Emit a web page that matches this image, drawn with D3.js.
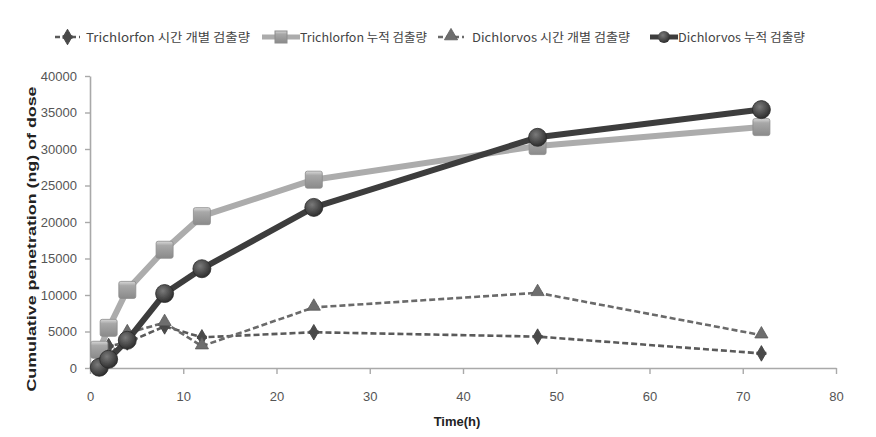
<!DOCTYPE html>
<html><head><meta charset="utf-8">
<script src="https://cdn.jsdelivr.net/npm/d3@7"></script>
<style>body{margin:0;background:#fff}svg{display:block}</style>
</head><body>
<svg id="c" width="876" height="437"></svg>
<script>
const times = [1, 2, 4, 8, 12, 24, 48, 72];
const trichlorfonHourly = [2000, 3000, 3500, 5700, 4200, 4900, 4300, 2000];
const trichlorfonCumulative = [2500, 5500, 10700, 16200, 20800, 25800, 30400, 33000];
const dichlorvosHourly = [300, 1500, 4800, 6200, 3000, 8300, 10300, 4500];
const dichlorvosCumulative = [100, 1200, 3800, 10200, 13600, 22000, 31600, 35400];
const seriesNames = ["Trichlorfon 시간 개별 검출량", "Trichlorfon 누적 검출량", "Dichlorvos 시간 개별 검출량", "Dichlorvos 누적 검출량"];
const xTicks = [0, 10, 20, 30, 40, 50, 60, 70, 80];
const yTicks = [0, 5000, 10000, 15000, 20000, 25000, 30000, 35000, 40000];
const xTitle = "Time(h)";
const yTitle = "Cumulative penetration (ng) of dose";

const svg = d3.select("#c");
const x = d3.scaleLinear().domain([0, 80]).range([90, 836]);
const y = d3.scaleLinear().domain([0, 40000]).range([368, 76]);

const defs = svg.append("defs");
const rg = defs.append("radialGradient").attr("id", "gCirc").attr("cx", "40%").attr("cy", "35%").attr("r", "65%");
rg.append("stop").attr("offset", "0%").attr("stop-color", "#7a7a7a");
rg.append("stop").attr("offset", "100%").attr("stop-color", "#2e2e2e");
const lg = defs.append("linearGradient").attr("id", "gSq").attr("x1", 0).attr("y1", 0).attr("x2", 0).attr("y2", 1);
lg.append("stop").attr("offset", "0%").attr("stop-color", "#d8d8d8");
lg.append("stop").attr("offset", "25%").attr("stop-color", "#a8a8a8");
lg.append("stop").attr("offset", "100%").attr("stop-color", "#8a8a8a");
const fl = defs.append("filter").attr("id", "blur").attr("x", "-20%").attr("y", "-20%").attr("width", "140%").attr("height", "140%");
fl.append("feGaussianBlur").attr("stdDeviation", 0.6);

const axisColor = "#a9a9a9";
const tickFont = "Liberation Sans Narrow, Liberation Sans, Arial, sans-serif";
// axes
const gx = svg.append("g").attr("transform", "translate(0,368)")
  .call(d3.axisBottom(x).tickValues(xTicks).tickFormat(d3.format("d")).tickSize(6).tickPadding(18).tickSizeOuter(0));
const gy = svg.append("g").attr("transform", "translate(90,0)")
  .call(d3.axisLeft(y).tickValues(yTicks).tickFormat(d3.format("d")).tickSize(5).tickPadding(8).tickSizeOuter(0));
[gx, gy].forEach(g => {
  g.select(".domain").attr("stroke", axisColor).attr("stroke-width", 1.6);
  g.selectAll(".tick line").attr("stroke", axisColor).attr("stroke-width", 1.4);
  g.selectAll(".tick text").attr("fill", "#555").attr("font-family", tickFont).attr("font-size", 13);
});

svg.append("text").attr("x", 457).attr("y", 426).attr("text-anchor", "middle")
  .attr("font-family", tickFont).attr("font-weight", "bold").attr("font-size", 13)
  .attr("fill", "#222").text(xTitle);
svg.append("text").attr("transform", "translate(36,239) rotate(-90)").attr("text-anchor", "middle")
  .attr("font-family", "Liberation Sans, Arial, sans-serif").attr("font-weight", "bold").attr("font-size", 13)
  .attr("fill", "#222").attr("textLength", 305).attr("lengthAdjust", "spacingAndGlyphs").text(yTitle);

const line = d3.line().x(d => x(d[0])).y(d => y(d[1]));
const pts = vals => times.map((t, i) => [t, vals[i]]);

const diamond = d3.symbol().type(d3.symbolDiamond).size(70);
const tri = d3.symbol().type(d3.symbolTriangle).size(75);

function drawMarker(g, kind, cx, cy) {
  if (kind === "diamond") {
    g.append("path").attr("d", diamond()).attr("transform", `translate(${cx},${cy})`)
      .attr("fill", "#505050").attr("stroke", "#3a3a3a").attr("stroke-width", 0.8);
    g.append("path").attr("d", d3.symbol().type(d3.symbolCross).size(55)()).attr("transform", `translate(${cx},${cy})`)
      .attr("fill", "#4a4a4a");
  } else if (kind === "square") {
    g.append("rect").attr("x", cx - 8.5).attr("y", cy - 8.5).attr("width", 17).attr("height", 17).attr("rx", 2)
      .attr("fill", "url(#gSq)").attr("stroke", "#8c8c8c").attr("stroke-width", 0.8);
  } else if (kind === "triangle") {
    g.append("path").attr("d", tri()).attr("transform", `translate(${cx},${cy - 1})`)
      .attr("fill", "#6e6e6e").attr("stroke", "#5a5a5a").attr("stroke-width", 0.8);
  } else if (kind === "circle") {
    g.append("circle").attr("cx", cx).attr("cy", cy).attr("r", 9)
      .attr("fill", "url(#gCirc)").attr("stroke", "#2a2a2a").attr("stroke-width", 0.8);
  }
}

const series = [
  {vals: trichlorfonHourly, color: "#5a5a5a", width: 2.6, dash: "6,3", marker: "diamond"},
  {vals: trichlorfonCumulative, color: "#acacac", width: 6, dash: null, marker: "square"},
  {vals: dichlorvosHourly, color: "#6a6a6a", width: 2.6, dash: "6,3", marker: "triangle"},
  {vals: dichlorvosCumulative, color: "#3c3c3c", width: 6, dash: null, marker: "circle"}
];

series.forEach(s => {
  const g = svg.append("g").attr("filter", "url(#blur)");
  g.append("path").attr("d", line(pts(s.vals))).attr("fill", "none").attr("stroke", s.color)
    .attr("stroke-width", s.width).attr("stroke-dasharray", s.dash).attr("stroke-linejoin", "round");
  pts(s.vals).forEach(p => drawMarker(g, s.marker, x(p[0]), y(p[1])));
});

// legend
const legend = [
  {x1: 55, x2: 80, tx: 86, tw: 164},
  {x1: 262, x2: 300, tx: 300, tw: 127},
  {x1: 438, x2: 464, tx: 472, tw: 158},
  {x1: 650, x2: 678, tx: 678, tw: 127}
];
legend.forEach((l, i) => {
  const s = series[i];
  const g = svg.append("g").attr("filter", "url(#blur)");
  g.append("line").attr("x1", l.x1).attr("x2", l.x2).attr("y1", 37).attr("y2", 37)
    .attr("stroke", s.color).attr("stroke-width", s.width === 6 ? 5 : 2.6).attr("stroke-dasharray", s.dash ? "5,3" : null);
  const cx = (l.x1 + l.x2) / 2;
  if (s.marker === "square") {
    g.append("rect").attr("x", cx - 6).attr("y", 31).attr("width", 12).attr("height", 12).attr("fill", "url(#gSq)").attr("stroke", "#8c8c8c");
  } else if (s.marker === "circle") {
    g.append("circle").attr("cx", cx).attr("cy", 37).attr("r", 6).attr("fill", "url(#gCirc)");
  } else {
    drawMarker(g, s.marker, cx, 37);
  }
  svg.append("text").attr("x", l.tx).attr("y", 41.5).attr("font-family", "Noto Sans CJK KR, sans-serif")
    .attr("font-size", 12).attr("fill", "#444").attr("textLength", l.tw).attr("lengthAdjust", "spacingAndGlyphs")
    .text(seriesNames[i]);
});
</script>
</body></html>
